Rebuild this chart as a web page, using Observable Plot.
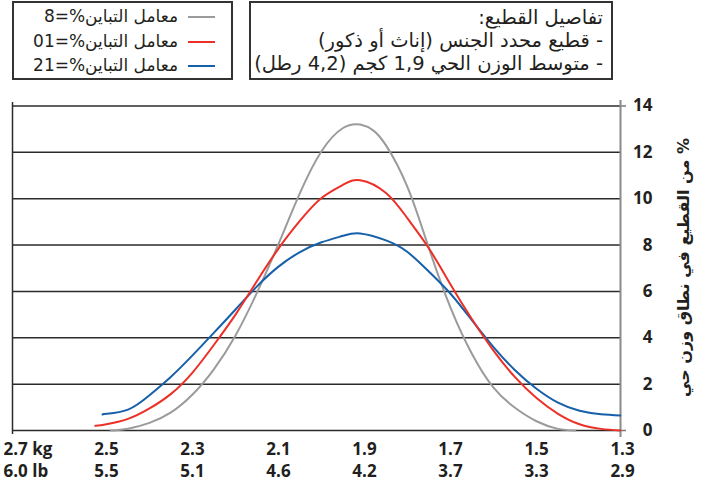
<!DOCTYPE html>
<html><head><meta charset="utf-8">
<script src="https://cdn.jsdelivr.net/npm/d3@7"></script>
<script src="https://cdn.jsdelivr.net/npm/@observablehq/plot@0.6"></script>
<style>
body{margin:0;background:#fff;}
#wrap{position:relative;width:702px;height:489px;overflow:hidden;background:#fff;}
#chart{position:absolute;left:0;top:0;}
.box{position:absolute;border:2px solid #333;box-sizing:border-box;}
.ar{position:absolute;font-family:"DejaVu Sans",sans-serif;color:#231f20;direction:rtl;white-space:nowrap;line-height:22px;}
.swatch{position:absolute;height:2px;width:27px;}
</style></head>
<body><div id="wrap"><div id="chart"></div></div>
<script>
// ---- data ----
const legendLabels = ["معامل التباين%=8", "معامل التباين%=01", "معامل التباين%=21"];
const seriesColors = ["#9b9b9b", "#ec3027", "#1660aa"];
const infoLines = ["تفاصيل القطيع:", "- قطيع محدد الجنس (إناث أو ذكور)", "- متوسط الوزن الحي 1,9 كجم (4,2 رطل)"];
const yTitle = "\u200F% من القطيع في نطاق وزن حي";

const kgTicks = [2.7, 2.5, 2.3, 2.1, 1.9, 1.7, 1.5, 1.3];
const kgLabels = ["2.7 kg", "2.5", "2.3", "2.1", "1.9", "1.7", "1.5", "1.3"];
const lbLabels = ["6.0 lb", "5.5", "5.1", "4.6", "4.2", "3.7", "3.3", "2.9"];
const yTicks = [0, 2, 4, 6, 8, 10, 12, 14];

// CV 8% (grey)
const kg8 = [2.49, 2.45, 2.40, 2.35, 2.30, 2.25, 2.20, 2.15, 2.10, 2.05, 2.00, 1.95, 1.91, 1.88, 1.85, 1.80, 1.75, 1.70, 1.65, 1.60, 1.55, 1.50, 1.45, 1.41];
const cv8 = [0, 0.08, 0.33, 0.78, 1.55, 2.65, 4.1, 5.95, 8.05, 10.25, 12.05, 13.05, 13.2, 12.95, 12.3, 10.5, 7.85, 5.3, 3.3, 1.85, 0.98, 0.4, 0.07, 0];
// CV 10% (red)
const kg10 = [2.526, 2.50, 2.45, 2.40, 2.35, 2.30, 2.25, 2.20, 2.15, 2.10, 2.05, 2.00, 1.95, 1.91, 1.85, 1.80, 1.75, 1.70, 1.65, 1.60, 1.55, 1.50, 1.45, 1.40, 1.35, 1.305];
const cv10 = [0.2, 0.27, 0.5, 0.95, 1.58, 2.5, 3.7, 5.0, 6.45, 7.85, 9.05, 10.03, 10.6, 10.8, 10.25, 9.15, 7.85, 6.3, 4.8, 3.45, 2.3, 1.4, 0.72, 0.27, 0.07, 0];
// CV 12% (blue)
const kg12 = [2.509, 2.50, 2.45, 2.40, 2.35, 2.30, 2.25, 2.20, 2.15, 2.10, 2.05, 2.00, 1.95, 1.91, 1.85, 1.80, 1.75, 1.70, 1.65, 1.60, 1.55, 1.50, 1.45, 1.40, 1.35, 1.305];
const cv12 = [0.69, 0.72, 0.9, 1.52, 2.32, 3.24, 4.22, 5.22, 6.22, 7.07, 7.7, 8.12, 8.4, 8.5, 8.2, 7.7, 6.85, 5.9, 4.75, 3.6, 2.6, 1.8, 1.2, 0.85, 0.7, 0.65];

const rows = s => (kg, v) => kg.map((k, i) => ({kg: k, v: v[i], s}));
const grey = rows("8")(kg8, cv8);
const red = rows("10")(kg10, cv10);
const blue = rows("12")(kg12, cv12);

const X0 = 2.7186, X1 = 1.3047;
const numFont = "'Open Sans', sans-serif";

const plot = Plot.plot({
  width: 702, height: 489,
  marginLeft: 12, marginRight: 82, marginTop: 105.5, marginBottom: 59,
  x: {domain: [X0, X1], axis: null},
  y: {domain: [0, 14], axis: null},
  style: {fontFamily: numFont, background: "transparent"},
  marks: [
    Plot.ruleY(yTicks, {x1: X0, x2: X1, stroke: "#2b2b2b", strokeWidth: 1.5}),
    Plot.ruleY([0, 14], {x1: X1, x2: 1.2907, stroke: "#777", strokeWidth: 1.5}),
    Plot.ruleX([X0], {y1: -0.17, y2: 14.15, stroke: "#2b2b2b", strokeWidth: 1.5}),
    Plot.ruleX([X1], {y1: -0.3, y2: 14.24, stroke: "#8a8a8a", strokeWidth: 2}),
    Plot.line(grey, {x: "kg", y: "v", stroke: seriesColors[0], strokeWidth: 2, curve: "natural"}),
    Plot.line(blue, {x: "kg", y: "v", stroke: seriesColors[2], strokeWidth: 2, curve: "natural"}),
    Plot.line(red, {x: "kg", y: "v", stroke: seriesColors[1], strokeWidth: 2, curve: "natural"}),
    Plot.text(yTicks, {x: () => X1, y: d => d, text: d => String(d), dx: 32, textAnchor: "end", fontSize: 17, fontWeight: "bold", fill: "#231f20"}),
    Plot.text(kgTicks.slice(1), {x: d => d, text: (d, i) => kgLabels[i + 1], frameAnchor: "bottom", dy: 24, fontSize: 17, fontWeight: "bold", fill: "#231f20"}),
    Plot.text(kgTicks.slice(1), {x: d => d, text: (d, i) => lbLabels[i + 1], frameAnchor: "bottom", dy: 46, fontSize: 17, fontWeight: "bold", fill: "#231f20"}),
    Plot.text(kgTicks.slice(0, 1), {x: d => d, text: () => kgLabels[0], frameAnchor: "bottom", dy: 24, dx: -17, textAnchor: "start", fontSize: 17, fontWeight: "bold", fill: "#231f20"}),
    Plot.text(kgTicks.slice(0, 1), {x: d => d, text: () => lbLabels[0], frameAnchor: "bottom", dy: 46, dx: -17, textAnchor: "start", fontSize: 17, fontWeight: "bold", fill: "#231f20"}),
    Plot.text([yTitle], {x: () => 1.158, y: () => 7.03, text: d => d, rotate: -90, fontSize: 16, fontWeight: "bold", fill: "#231f20", fontFamily: "'DejaVu Sans', sans-serif"})
  ]
});
document.getElementById("chart").appendChild(plot);

// ---- legend box and info box ----
const wrap = document.getElementById("wrap");
function el(cls, css, txt) {
  const d = document.createElement("div");
  d.className = cls;
  Object.assign(d.style, css);
  if (txt != null) d.textContent = txt;
  wrap.appendChild(d);
  return d;
}
el("box", {left: "12px", top: "1px", width: "221px", height: "79px"});
el("box", {left: "249px", top: "1px", width: "364px", height: "79px"});
const legRowY = [17, 42, 66];
legendLabels.forEach((t, i) => {
  el("ar", {right: (702 - 178) + "px", top: (legRowY[i] - 12) + "px", fontSize: "17px"}, t);
  el("swatch", {left: "188px", top: (legRowY[i] - 1) + "px", background: seriesColors[i]});
});
const infoRowY = [19, 42, 65];
infoLines.forEach((t, i) => {
  el("ar", {right: (702 - 603) + "px", top: (infoRowY[i] - 12) + "px", fontSize: "19.5px"}, t);
});
</script>
</body></html>
